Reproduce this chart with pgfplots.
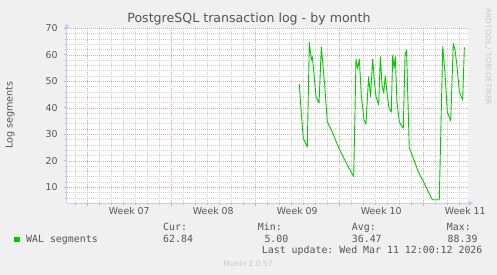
\documentclass[border=0pt]{standalone}
\usepackage{pgfplots}
\pgfplotsset{compat=1.18}
\usepackage{fontspec}
\setmainfont{DejaVu Sans}
\setmonofont{DejaVu Sans Mono}
\usetikzlibrary{arrows.meta}
\definecolor{bg}{HTML}{F0F0F0}
\definecolor{txt}{HTML}{555555}
\definecolor{axisc}{HTML}{C8CCF4}
\definecolor{mgrid}{HTML}{E3A4A4}
\definecolor{ngrid}{HTML}{D0D0D0}
\definecolor{walgreen}{HTML}{00CC00}
\definecolor{faint}{HTML}{C8C8C8}
\begin{document}
\begin{tikzpicture}[x=1pt,y=1pt]
\fill[bg] (0,0) rectangle (497,275);
\useasboundingbox (0,0) rectangle (497,275);
\begin{axis}[
  at={(66.7pt,71.7pt)}, anchor=south west,
  scale only axis, width=401.6pt, height=175pt,
  xmin=-1.72, xmax=31.75, ymin=3.96, ymax=70,
  axis lines=left,
  axis line style={draw=axisc, line width=0.8pt, -{Triangle[length=5pt,width=5pt]}, shorten >=-5pt},
  axis background/.style={fill=white},
  xtick={0,7,14,21,28}, xticklabels={},
  minor xtick={-1,1,2,3,4,5,6,8,9,10,11,12,13,15,16,17,18,19,20,22,23,24,25,26,27,29,30,31},
  extra x ticks={3.5,10.5,17.5,24.5,31.5},
  extra x tick labels={Week 07,Week 08,Week 09,Week 10,Week 11},
  extra x tick style={grid=none, major tick length=0pt},
  ytick={10,20,30,40,50,60,70},
  minor ytick={6,8,12,14,16,18,22,24,26,28,32,34,36,38,42,44,46,48,52,54,56,58,62,64,66,68},
  grid=both,
  major grid style={mgrid, dash pattern=on 1pt off 1pt, line width=0.5pt},
  minor grid style={ngrid, dash pattern=on 1pt off 1pt, line width=0.5pt},
  tick align=outside, major tick length=2.5pt, minor tick length=1.5pt,
  tick style={color=mgrid, line width=0.6pt},
  ticklabel style={font=\fontsize{9.4}{11}\selectfont, text=txt},
  /pgf/number format/assume math mode=true,
  yticklabel style={xshift=-3pt},
  xticklabel style={yshift=-1pt},
]
\addplot[walgreen, line width=0.9pt, line join=round] table[x=d,y=v] {
d v
17.67 48.9
17.78 41.1
18.00 28.5
18.33 25.2
18.50 64.7
18.67 58.0
18.75 59.3
18.90 52.4
19.06 44.2
19.31 41.8
19.50 63.0
19.78 48.6
20.00 34.8
20.40 31.0
20.97 24.7
21.67 18.4
22.20 14.0
22.39 58.4
22.53 54.9
22.67 58.3
22.83 44.8
23.06 35.4
23.22 33.8
23.44 51.7
23.60 44.2
23.78 58.4
23.92 49.9
24.06 44.2
24.28 41.1
24.42 59.3
24.56 48.6
24.70 45.5
24.83 52.1
24.98 45.5
25.12 40.4
25.33 38.3
25.45 59.9
25.56 54.9
25.67 59.3
25.80 42.3
26.00 34.8
26.17 33.3
26.33 32.3
26.48 59.9
26.60 61.8
26.83 25.0
27.17 20.9
27.58 15.9
28.14 10.9
28.75 5.3
29.33 5.3
29.62 63.1
29.80 53.6
30.00 38.5
30.28 35.0
30.50 64.3
30.64 61.8
30.78 56.8
31.00 46.1
31.28 42.9
31.42 62.8
};
\end{axis}
\node[text=txt, font=\fontsize{12.6}{15}\selectfont] at (249,256) {PostgreSQL transaction log - by month};
\node[text=txt, rotate=90, font=\fontsize{9.6}{11}\selectfont] at (10,160) {Log segments};
\node[text=faint, rotate=-90, anchor=west, font=\fontsize{7.5}{9}\selectfont] at (488.3,270) {RRDTOOL / TOBI OETIKER};
\node[text=faint, font=\fontsize{7.5}{9}\selectfont] at (248,11) {Munin 2.0.57};
\fill[walgreen] (14,32.5) rectangle (19.5,38);
\begin{scope}[every node/.style={text=txt, inner sep=0pt, anchor=base west, font=\fontsize{9.9}{12}\ttfamily}]
\node at (26,32.7) {WAL segments};
\node at (163,44) {Cur:};
\node at (163,32.7) {62.84};
\node at (257.7,44) {Min:};
\node at (264.3,32.7) {5.00};
\node at (351.7,44) {Avg:};
\node at (351.7,32.7) {36.47};
\node at (446.7,44) {Max:};
\node at (447.5,32.7) {88.39};
\node at (261.7,21.3) {Last update: Wed Mar 11 12:00:12 2026};
\end{scope}
\end{tikzpicture}
\end{document}
